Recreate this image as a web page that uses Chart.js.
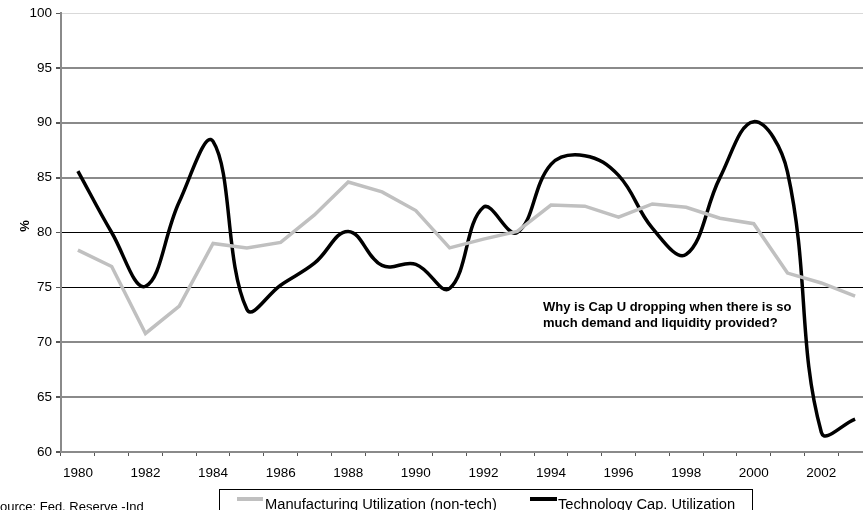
<!DOCTYPE html>
<html>
<head>
<meta charset="utf-8">
<script src="https://cdn.jsdelivr.net/npm/chart.js@4.4.1/dist/chart.umd.min.js"></script>
<style>
  html, body { margin: 0; padding: 0; background: #fff; width: 863px; height: 510px; overflow: hidden; }
  canvas { display: block; }
</style>
</head>
<body>
<canvas id="chart" width="872" height="510"></canvas>
<script>
// Years on the category axis
const years = ['1980','1981','1982','1983','1984','1985','1986','1987','1988','1989','1990','1991',
               '1992','1993','1994','1995','1996','1997','1998','1999','2000','2001','2002','2003'];
// Only every other year carries a label
const labelYears = ['1980','1982','1984','1986','1988','1990','1992','1994','1996','1998','2000','2002'];

// Capacity utilization, %
const manufacturing = [78.4, 76.9, 70.8, 73.3, 79.0, 78.6, 79.1, 81.6, 84.6, 83.7, 82.0, 78.6,
                       79.4, 80.1, 82.5, 82.4, 81.4, 82.6, 82.3, 81.3, 80.8, 76.3, 75.4, 74.2];
const technology    = [85.6, 80.0, 75.1, 82.8, 88.3, 73.0, 75.2, 77.2, 80.1, 77.0, 77.1, 74.9,
                       82.3, 80.0, 86.2, 87.0, 85.2, 80.4, 78.0, 85.0, 90.1, 85.5, 61.8, 63.0];

const seriesNames = ['Manufacturing Utilization (non-tech)', 'Technology Cap. Utilization'];
const yTitle = '%';
const note = ['Why is Cap U dropping when there is so', 'much demand and liquidity provided?'];
const sourceText = 'Source: Fed. Reserve -Ind';

const FONT = '"Liberation Sans", Arial, Helvetica, sans-serif';
Chart.defaults.font.family = FONT;
Chart.defaults.color = '#000';

// Extra drawing: axis title, note, boxed legend and source line
const decorations = {
  id: 'decorations',
  afterDraw(chart) {
    const ctx = chart.ctx;
    ctx.save();
    ctx.fillStyle = '#000';

    // y-axis title
    ctx.save();
    ctx.translate(25, 226);
    ctx.rotate(-Math.PI / 2);
    ctx.font = 'bold 13px ' + FONT;
    ctx.textAlign = 'center';
    ctx.textBaseline = 'middle';
    ctx.fillText(yTitle, 0, 0);
    ctx.restore();

    // note
    ctx.font = 'bold 13px ' + FONT;
    ctx.textAlign = 'left';
    ctx.textBaseline = 'middle';
    ctx.fillText(note[0], 543, 307);
    ctx.fillText(note[1], 543, 323);

    // legend box
    ctx.strokeStyle = '#000';
    ctx.lineWidth = 1;
    ctx.strokeRect(219.5, 489.5, 533, 40);
    const ds = chart.data.datasets;
    const entries = [{ x0: 237, x1: 263, tx: 265 }, { x0: 530, x1: 557, tx: 558 }];
    ctx.font = '14.7px ' + FONT;
    ctx.textBaseline = 'alphabetic';
    entries.forEach((e, i) => {
      ctx.strokeStyle = ds[i].borderColor;
      ctx.lineWidth = 4;
      ctx.beginPath();
      ctx.moveTo(e.x0, 499);
      ctx.lineTo(e.x1, 499);
      ctx.stroke();
      ctx.fillText(ds[i].label, e.tx, 509);
    });

    // source line
    ctx.font = '13px ' + FONT;
    ctx.fillText(sourceText, -8.7, 510.5);
    ctx.restore();
  }
};

function gridColor(ctx) {
  const v = ctx.tick && ctx.tick.value;
  if (v === 100) return '#d9d9d9';
  if (v === 80 || v === 75) return '#000';
  return '#8a8a8a';
}
function gridWidth(ctx) {
  const v = ctx.tick && ctx.tick.value;
  if (v === 100 || v === 80 || v === 75) return 1;
  return 2;
}

new Chart(document.getElementById('chart'), {
  type: 'line',
  data: {
    labels: years,
    datasets: [
      {
        label: seriesNames[0],
        data: manufacturing,
        borderColor: '#c0c0c0',
        borderWidth: 3.5,
        tension: 0,
        pointRadius: 0,
        fill: false
      },
      {
        label: seriesNames[1],
        data: technology,
        borderColor: '#000',
        borderWidth: 3.5,
        tension: 0.4,
        pointRadius: 0,
        fill: false
      }
    ]
  },
  options: {
    responsive: false,
    animation: false,
    devicePixelRatio: 1,
    layout: { padding: { top: 13, left: 0, right: 0, bottom: 0 } },
    plugins: { legend: { display: false }, tooltip: { enabled: false } },
    scales: {
      x: {
        type: 'category',
        offset: true,
        grid: { offset: true, drawOnChartArea: false, drawTicks: true, tickLength: 4, tickColor: '#555', lineWidth: 1 },
        border: { display: true, color: '#8a8a8a', width: 2 },
        ticks: {
          autoSkip: false, maxRotation: 0, minRotation: 0, padding: 9,
          color: '#000', font: { size: 13.5 },
          callback: (v, i) => labelYears.includes(years[i]) ? years[i] : ''
        },
        afterFit(scale) { scale.height = 58; }
      },
      y: {
        min: 60, max: 100,
        ticks: { stepSize: 5, padding: 4, color: '#000', font: { size: 13.5 } },
        grid: { color: gridColor, lineWidth: gridWidth, tickLength: 5, tickColor: '#555' },
        border: { display: true, color: '#8a8a8a', width: 2 },
        afterFit(scale) { scale.width = 61; }
      }
    }
  },
  plugins: [decorations]
});
</script>
</body>
</html>
